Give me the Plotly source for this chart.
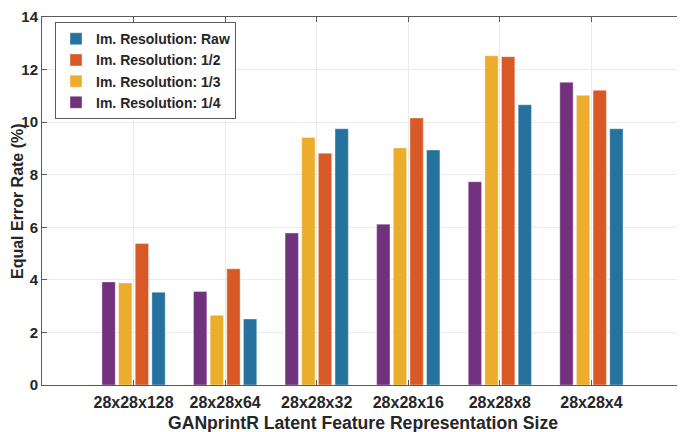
import plotly.graph_objects as go

categories = ["28x28x128", "28x28x64", "28x28x32", "28x28x16", "28x28x8", "28x28x4"]
res_quarter = [3.92, 3.56, 5.78, 6.12, 7.73, 11.52]
res_third = [3.88, 2.65, 9.42, 9.02, 12.53, 11.02]
res_half = [5.38, 4.42, 8.82, 10.16, 12.49, 11.21]
res_raw = [3.53, 2.51, 9.75, 8.94, 10.66, 9.75]
y_ticks = [0, 2, 4, 6, 8, 10, 12, 14]
x_title = "GANprintR Latent Feature Representation Size"
y_title = "Equal Error Rate (%)"

series = [
    ("Im. Resolution: 1/4", res_quarter, "#72317D"),
    ("Im. Resolution: 1/3", res_third, "#EBAD2B"),
    ("Im. Resolution: 1/2", res_half, "#D95926"),
    ("Im. Resolution: Raw", res_raw, "#26729F"),
]

fig = go.Figure()
for name, vals, color in series:
    fig.add_trace(go.Bar(
        x=categories, y=vals, name=name,
        marker=dict(color=color, line=dict(color="rgba(255,255,255,0.45)", width=0.8)),
    ))

font_family = "Liberation Sans, Arial, sans-serif"
axis_color = "#5a5a5a"
text_color = "#262626"

fig.update_layout(
    width=677, height=424,
    margin=dict(l=34, r=2, t=9, b=47),
    paper_bgcolor="white", plot_bgcolor="white",
    barmode="group", bargap=0.273, bargroupgap=0.2,
    font=dict(family=font_family, size=14, color=text_color),
    showlegend=True,
    legend=dict(
        x=0.0203, y=0.986, xanchor="left", yanchor="top",
        traceorder="reversed",
        bgcolor="white", bordercolor=axis_color, borderwidth=1,
        font=dict(family=font_family, size=14, color=text_color, weight="bold"),
        itemwidth=30, tracegroupgap=0,
    ),
    xaxis=dict(
        type="category", range=[-1, 6], automargin=False,
        showgrid=True, gridcolor="#EBEBEB", gridwidth=1,
        showline=True, linecolor=axis_color, linewidth=1, mirror="ticks",
        ticks="inside", ticklen=5, tickcolor=axis_color, ticklabelstandoff=3,
        tickfont=dict(family=font_family, size=16, color=text_color, weight="bold"),
        zeroline=False,
    ),
    yaxis=dict(
        range=[0, 14.001], tickvals=y_ticks, ticktext=[str(v) for v in y_ticks],
        automargin=False, ticklabeloverflow="allow",
        showgrid=True, gridcolor="#EBEBEB", gridwidth=1,
        showline=True, linecolor=axis_color, linewidth=1, mirror="ticks",
        ticks="inside", ticklen=5, tickcolor=axis_color,
        tickfont=dict(family=font_family, size=15, color=text_color, weight="bold"),
        zeroline=False,
    ),
    annotations=[
        dict(text="<b>" + x_title + "</b>", xref="paper", yref="paper",
             x=0.5, y=0, xanchor="center", yanchor="middle", yshift=-38,
             showarrow=False, font=dict(family=font_family, size=17.6, color=text_color)),
        dict(text="<b>" + y_title + "</b>", xref="paper", yref="paper",
             x=0, y=0.5, xanchor="center", yanchor="middle", xshift=-25, textangle=-90,
             showarrow=False, font=dict(family=font_family, size=16, color=text_color)),
    ],
)

fig.write_html("out.html")
